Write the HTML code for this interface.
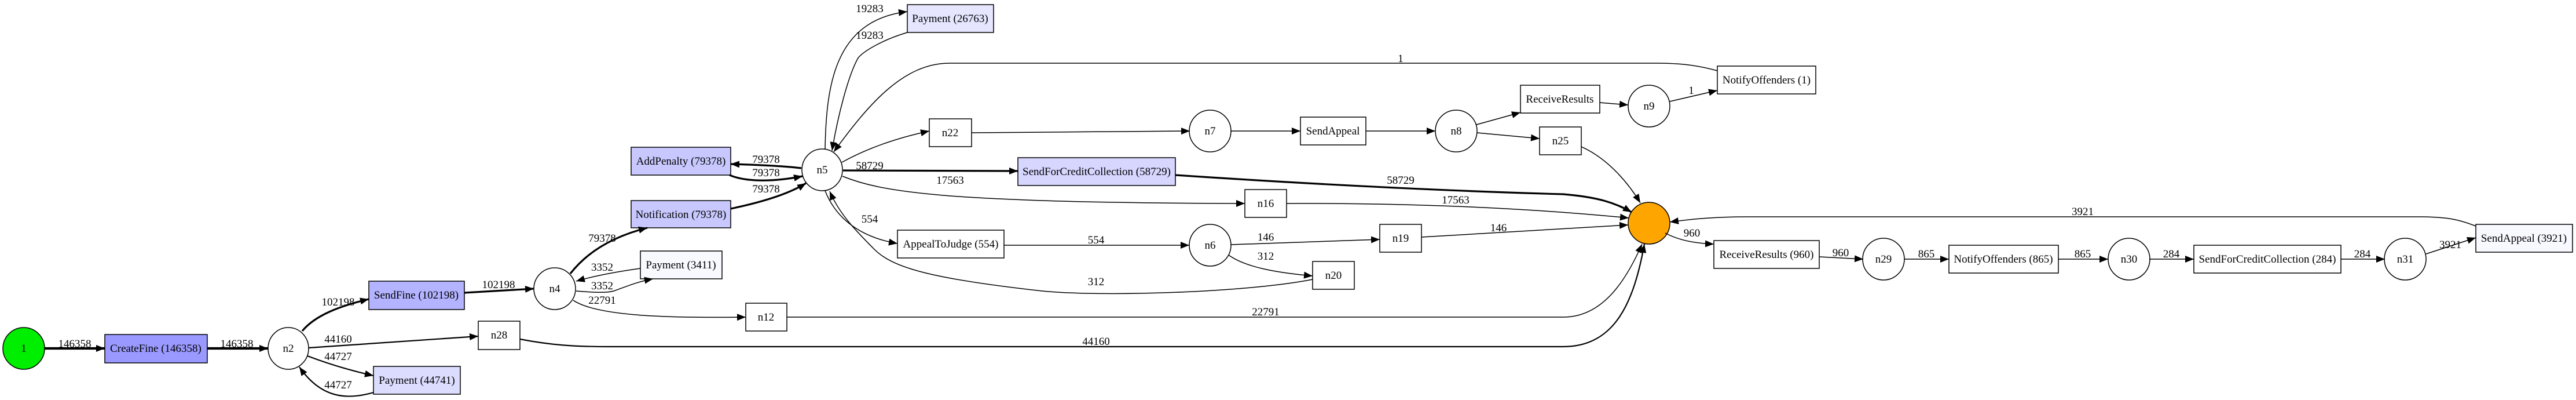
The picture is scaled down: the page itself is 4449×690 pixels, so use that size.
<!DOCTYPE html>
<html><head><meta charset="utf-8"><style>
html,body{margin:0;padding:0;background:#fff;}
svg{display:block}
text{font-family:"Liberation Serif",serif;font-size:19px;fill:#000;text-anchor:middle}
.e{fill:none;stroke:#000;stroke-width:1.5}
.t2{stroke-width:2.2}
.t3{stroke-width:3.2}
.t4{stroke-width:4.2}
.n{stroke:#000;stroke-width:1.5}
</style></head><body>
<svg width="4449" height="690" viewBox="0 0 4449 690" xmlns="http://www.w3.org/2000/svg">
<defs>
<marker id="a" markerUnits="userSpaceOnUse" markerWidth="16" markerHeight="12" refX="15" refY="6" orient="auto"><path d="M0,0 L15,6 L0,12 z" fill="#000"/></marker>
</defs>

<!-- nodes -->
<ellipse class="n" cx="41" cy="601" rx="36" ry="36" fill="#00ee00"/><text x="41" y="607">1</text>
<rect class="n" x="181" y="577" width="177" height="49" fill="#9999ff"/><text x="269" y="607">CreateFine (146358)</text>
<ellipse class="n" cx="498" cy="601" rx="35" ry="36" fill="#fff"/><text x="498" y="607">n2</text>
<rect class="n" x="637" y="485" width="165" height="49" fill="#b3b3ff"/><text x="719" y="515">SendFine (102198)</text>
<ellipse class="n" cx="958" cy="498" rx="36" ry="36" fill="#fff"/><text x="958" y="504">n4</text>
<rect class="n" x="826" y="554" width="72" height="49" fill="#fff"/><text x="862" y="584">n28</text>
<rect class="n" x="645" y="632" width="150" height="48" fill="#dcdcff"/><text x="720" y="662">Payment (44741)</text>
<rect class="n" x="1567" y="8" width="149" height="48" fill="#e6e6ff"/><text x="1641" y="38">Payment (26763)</text>
<ellipse class="n" cx="1420" cy="293" rx="35" ry="36" fill="#fff"/><text x="1420" y="299">n5</text>
<rect class="n" x="1090" y="254" width="172" height="48" fill="#c8c8ff"/><text x="1176" y="284">AddPenalty (79378)</text>
<rect class="n" x="1090" y="346" width="172" height="47" fill="#c8c8ff"/><text x="1176" y="376">Notification (79378)</text>
<rect class="n" x="1106" y="433" width="141" height="48" fill="#f8f8ff"/><text x="1176" y="463">Payment (3411)</text>
<rect class="n" x="1605" y="205" width="73" height="48" fill="#fff"/><text x="1641" y="235">n22</text>
<rect class="n" x="1758" y="272" width="272" height="48" fill="#d6d6ff"/><text x="1894" y="302">SendForCreditCollection (58729)</text>
<rect class="n" x="1550" y="397" width="184" height="48" fill="#fff"/><text x="1642" y="427">AppealToJudge (554)</text>
<rect class="n" x="1288" y="523" width="71" height="48" fill="#fff"/><text x="1323" y="553">n12</text>
<ellipse class="n" cx="2090" cy="226" rx="36" ry="36" fill="#fff"/><text x="2090" y="232">n7</text>
<rect class="n" x="2246" y="202" width="113" height="48" fill="#fff"/><text x="2302" y="232">SendAppeal</text>
<ellipse class="n" cx="2515" cy="226" rx="36" ry="36" fill="#fff"/><text x="2515" y="232">n8</text>
<rect class="n" x="2626" y="147" width="137" height="48" fill="#fff"/><text x="2694" y="177">ReceiveResults</text>
<ellipse class="n" cx="2848" cy="183" rx="36" ry="36" fill="#fff"/><text x="2848" y="189">n9</text>
<rect class="n" x="2966" y="114" width="170" height="48" fill="#fff"/><text x="3051" y="144">NotifyOffenders (1)</text>
<rect class="n" x="2659" y="219" width="72" height="48" fill="#fff"/><text x="2695" y="249">n25</text>
<rect class="n" x="2150" y="327" width="72" height="48" fill="#fff"/><text x="2186" y="357">n16</text>
<ellipse class="n" cx="2090" cy="423" rx="36" ry="36" fill="#fff"/><text x="2090" y="429">n6</text>
<rect class="n" x="2383" y="387" width="72" height="48" fill="#fff"/><text x="2419" y="417">n19</text>
<rect class="n" x="2267" y="451" width="72" height="48" fill="#fff"/><text x="2303" y="481">n20</text>
<ellipse class="n" cx="2848" cy="385" rx="36" ry="36" fill="#ffa500"/>
<rect class="n" x="2960" y="415" width="182" height="48" fill="#fff"/><text x="3051" y="445">ReceiveResults (960)</text>
<ellipse class="n" cx="3253" cy="447" rx="36" ry="36" fill="#fff"/><text x="3253" y="453">n29</text>
<rect class="n" x="3366" y="423" width="189" height="48" fill="#fff"/><text x="3460" y="453">NotifyOffenders (865)</text>
<ellipse class="n" cx="3677" cy="447" rx="36" ry="36" fill="#fff"/><text x="3677" y="453">n30</text>
<rect class="n" x="3789" y="423" width="254" height="48" fill="#fff"/><text x="3916" y="453">SendForCreditCollection (284)</text>
<ellipse class="n" cx="4154" cy="447" rx="36" ry="36" fill="#fff"/><text x="4154" y="453">n31</text>
<rect class="n" x="4276" y="387" width="167" height="48" fill="#f8f8ff"/><text x="4359" y="417">SendAppeal (3921)</text>

<!-- edges -->
<path class="e t4" marker-end="url(#a)" d="M77,601 L181,601"/>
<path class="e t4" marker-end="url(#a)" d="M358,601 L463,601"/>
<path class="e t3" marker-end="url(#a)" d="M522,571 C545,543 590,527 637,516"/>
<path class="e t3" marker-end="url(#a)" d="M802,505 L922,498"/>
<path class="e t2" marker-end="url(#a)" d="M533,600 L826,580"/>
<path class="e t2" marker-end="url(#a)" d="M531,614 C560,625 600,638 645,648"/>
<path class="e t2" marker-end="url(#a)" d="M645,677 C600,690 555,688 517,633"/>
<path class="e t3" marker-end="url(#a)" d="M985,472 C1010,440 1050,410 1118,393"/>
<path class="e" marker-end="url(#a)" d="M1106,463 C1070,468 1030,475 995,485"/>
<path class="e" marker-end="url(#a)" d="M995,502 C1020,504 1045,506 1060,502 C1080,495 1100,486 1128,481"/>
<path class="e" marker-end="url(#a)" d="M990,518 C1030,545 1150,549 1288,547"/>
<path class="e t3" marker-end="url(#a)" d="M1384,290 C1350,286 1300,284 1262,283"/>
<path class="e t3" marker-end="url(#a)" d="M1260,302 C1290,315 1340,313 1386,304"/>
<path class="e t3" marker-end="url(#a)" d="M1262,360 C1310,350 1360,336 1392,316"/>
<path class="e" marker-end="url(#a)" d="M1425,257 C1427,150 1440,35 1567,20"/>
<path class="e" marker-end="url(#a)" d="M1567,56 C1520,70 1490,90 1482,100 C1465,130 1447,200 1437,260"/>
<path class="e" marker-end="url(#a)" d="M2966,122 C2930,112 2900,109 2860,109 L1640,109 C1560,109 1500,180 1440,262"/>
<path class="e" marker-end="url(#a)" d="M1454,280 C1490,260 1540,240 1605,226"/>
<path class="e t3" marker-end="url(#a)" d="M1456,294 L1758,295"/>
<path class="e t3" marker-end="url(#a)" d="M2030,302 C2300,320 2520,330 2700,335 C2760,340 2790,350 2818,366"/>
<path class="e" marker-end="url(#a)" d="M1455,304 C1520,330 1620,350 2150,351"/>
<path class="e" marker-end="url(#a)" d="M2222,351 C2450,350 2650,360 2813,376"/>
<path class="e" marker-end="url(#a)" d="M1425,329 C1445,380 1490,410 1550,420"/>
<path class="e" marker-end="url(#a)" d="M1734,423 L2054,423"/>
<path class="e" marker-end="url(#a)" d="M2126,422 L2383,413"/>
<path class="e" marker-end="url(#a)" d="M2122,440 C2150,460 2200,470 2267,476"/>
<path class="e" marker-end="url(#a)" d="M2267,482 C2150,505 1900,512 1800,502 C1600,480 1540,460 1510,430 C1480,400 1450,370 1433,330"/>
<path class="e" marker-end="url(#a)" d="M2455,409 L2812,388"/>
<path class="e" marker-end="url(#a)" d="M1359,547 L2700,547 C2770,547 2810,480 2836,421"/>
<path class="e t2" marker-end="url(#a)" d="M898,585 C950,595 990,598 1050,598 L2700,598 C2790,598 2822,520 2840,421"/>
<path class="e" marker-end="url(#a)" d="M1678,229 L2055,226"/>
<path class="e" marker-end="url(#a)" d="M2126,226 L2246,226"/>
<path class="e" marker-end="url(#a)" d="M2359,226 L2479,226"/>
<path class="e" marker-end="url(#a)" d="M2550,215 L2626,194"/>
<path class="e" marker-end="url(#a)" d="M2551,229 L2659,239"/>
<path class="e" marker-end="url(#a)" d="M2763,177 L2812,181"/>
<path class="e" marker-end="url(#a)" d="M2884,175 L2966,156"/>
<path class="e" marker-end="url(#a)" d="M2731,253 C2780,275 2815,320 2833,350"/>
<path class="e" marker-end="url(#a)" d="M2876,402 C2900,415 2930,420 2960,421"/>
<path class="e" marker-end="url(#a)" d="M3142,443 L3218,447"/>
<path class="e" marker-end="url(#a)" d="M3289,447 L3366,447"/>
<path class="e" marker-end="url(#a)" d="M3555,447 L3641,447"/>
<path class="e" marker-end="url(#a)" d="M3712,447 L3789,447"/>
<path class="e" marker-end="url(#a)" d="M4043,447 L4119,447"/>
<path class="e" marker-end="url(#a)" d="M4190,438 L4276,410"/>
<path class="e" marker-end="url(#a)" d="M4276,390 C4250,380 4230,374 4180,374 L3020,374 C2960,374 2920,378 2884,383"/>

<!-- edge labels -->
<text x="129" y="599">146358</text>
<text x="409" y="599">146358</text>
<text x="584" y="527">102198</text>
<text x="861" y="497">102198</text>
<text x="584" y="591">44160</text>
<text x="584" y="621">44727</text>
<text x="584" y="670">44727</text>
<text x="1040" y="417">79378</text>
<text x="1040" y="467">3352</text>
<text x="1040" y="499">3352</text>
<text x="1040" y="524">22791</text>
<text x="1502" y="21">19283</text>
<text x="1502" y="67">19283</text>
<text x="1323" y="281">79378</text>
<text x="1323" y="304">79378</text>
<text x="1323" y="332">79378</text>
<text x="1502" y="292">58729</text>
<text x="1641" y="317">17563</text>
<text x="1502" y="384">554</text>
<text x="1893" y="420">554</text>
<text x="1893" y="492">312</text>
<text x="1893" y="595">44160</text>
<text x="2419" y="107">1</text>
<text x="2921" y="162">1</text>
<text x="2419" y="317">58729</text>
<text x="2514" y="351">17563</text>
<text x="2186" y="415">146</text>
<text x="2588" y="399">146</text>
<text x="2186" y="448">312</text>
<text x="2922" y="408">960</text>
<text x="2186" y="544">22791</text>
<text x="3179" y="442">960</text>
<text x="3327" y="444">865</text>
<text x="3597" y="444">865</text>
<text x="3750" y="444">284</text>
<text x="4080" y="444">284</text>
<text x="4232" y="428">3921</text>
<text x="3597" y="371">3921</text>
</svg>
</body></html>
